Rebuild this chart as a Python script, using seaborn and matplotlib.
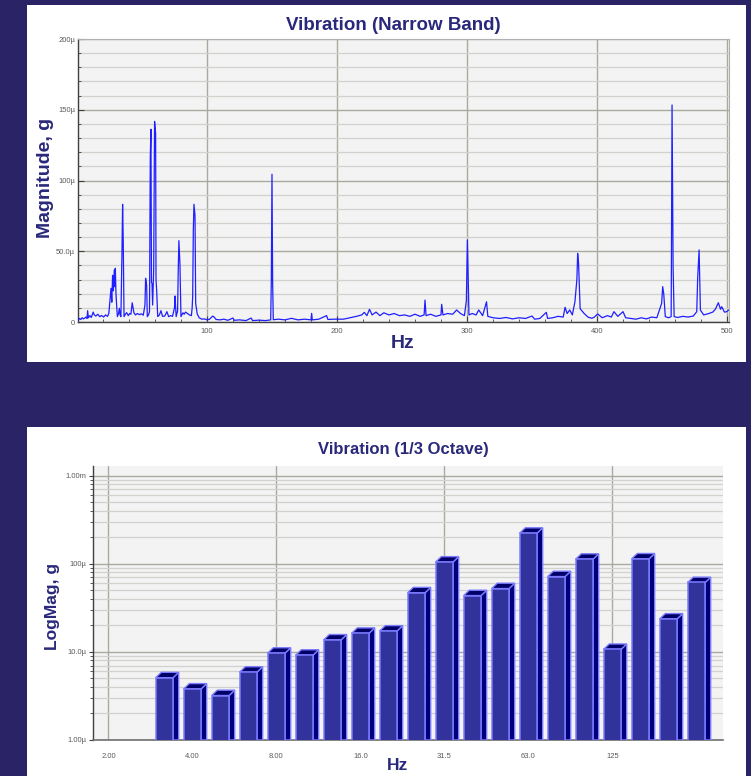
import numpy as np
import pandas as pd
import matplotlib
matplotlib.use('Agg')
import matplotlib.pyplot as plt
import seaborn as sns
from matplotlib.patches import Rectangle, Polygon
from matplotlib.ticker import FixedLocator, MultipleLocator, FuncFormatter, LogLocator, NullFormatter

sns.set_theme(style='white')
plt.rcParams['font.family'] = ['Liberation Sans', 'DejaVu Sans']

# Narrow band spectrum (Hz, micro-g)
nb_freq = [1, 2, 3, 4, 5, 6, 7, 7.8, 8.2, 8.8, 10, 11, 12.5, 13.3, 14.5, 16, 17.5, 19,
           20.5, 22, 23.5, 24.5, 25.4, 26.2, 26.8, 27.4, 28.0, 28.7, 29.2, 29.5, 30.0,
           30.5, 31.1, 32.0, 32.6, 33.2, 33.8, 34.6, 35.1, 35.6, 36.2, 37.2, 38.2, 39.5,
           40.5, 41.5, 42.5, 43.8, 45, 46.5, 48, 49.5, 51, 52.3, 52.8, 53.6, 54.1, 55.0,
           55.8, 56.4, 56.9, 57.3, 57.7, 58.2, 59.0, 59.7, 60.5, 60.8, 61.3, 62.1, 63.4,
           64.6, 65.8, 67.5, 69.2, 70.5, 72, 73.5, 75.0, 75.4, 76.3, 77.4, 77.9, 78.4,
           79.2, 80.0, 81.5, 82.5, 83.5, 85, 86.5, 88, 88.6, 89.0, 89.5, 90.0, 90.8, 91.3,
           92.5, 94, 96, 98, 100, 102, 104.4, 105.5, 107, 110, 113, 116, 120, 121, 125,
           130, 134, 135, 140, 145, 149, 149.5, 150, 150.5, 151, 155, 160, 165, 170, 175,
           180, 180.5, 181, 186, 192, 193, 198, 205, 210, 215, 219, 221, 223, 225, 227,
           230, 233, 236, 240, 244, 248, 252, 256, 260, 264, 267, 267.7, 268.5, 272, 276,
           280, 280.5, 281.5, 285, 289, 292, 295, 298, 299.5, 300.3, 300.8, 301.5, 304,
           307, 309, 312, 315, 316, 320, 325, 330, 335, 340, 345, 350, 352, 356, 361, 362,
           366, 370, 374, 375.4, 377, 379, 381, 383, 384.5, 385.1, 385.8, 387, 390, 393,
           396, 398, 400.5, 404, 408, 411, 413, 416, 420, 422, 426, 430, 434, 438, 442,
           446, 449.7, 450.5, 451.3, 452.5, 455, 457, 457.2, 457.7, 458.5, 459.3, 462,
           466, 470, 474, 476.7, 477.4, 478.5, 479.5, 482, 486, 489, 491, 493.3, 495,
           495.9, 498, 499.7, 501.3]
nb_mag = [1.2, 2.5, 1.8, 3.0, 2.2, 2.8, 3.5, 2.5, 8.0, 3.0, 4.5, 3.2, 7.0, 5.0, 4.2, 5.5, 3.8, 4.6,
          3.5, 5.0, 4.0, 6.0, 15.5, 23.8, 14, 33, 22, 36.7, 25, 38, 20,
          12, 3.8, 6, 9.7, 5, 3.8, 48, 83.2, 56.8, 3.8, 5.5, 6.6, 4.5,
          6, 5.5, 13.6, 6.6, 5, 6, 5.2, 5.8, 4.8, 12, 30.9, 26, 3.8, 5,
          7.3, 116.4, 136.2, 28, 27.3, 12, 36.7, 141.8, 133.3, 29.7, 22.6, 3.8, 5,
          8.0, 4, 4.2, 7.3, 3.8, 4.5, 4, 10, 18.4, 3.8, 8, 36.7, 57.5,
          41, 3.8, 6.5, 5.5, 7, 6, 5, 4.5, 10, 17.9, 65, 83.2, 75, 13.2,
          5.7, 3, 2, 2.2, 1.5, 2, 4.2, 3.5, 1.8, 1.5, 2.0, 1.2, 2.8, 1.2, 1.5,
          1.0, 2.8, 1.0, 1.3, 1.0, 1.5, 29.7, 104.4, 28, 1.6, 2, 1.5, 2.6, 1.5, 2.0,
          1.5, 6.1, 1.5, 2, 4.5, 1.8, 2, 2, 3, 4, 5, 6.8, 4.5, 9, 5,
          7, 4.5, 6.5, 5, 6, 4.5, 5, 4, 5.5, 4, 5, 15.5, 4.5, 5.5, 4,
          5, 12.5, 5, 6, 5.5, 8.5, 6, 4.5, 15, 58, 35.6, 5, 6,
          5, 8.5, 4.5, 14.3, 4, 3, 2.5, 3.2, 2.2, 3, 2.5, 4.2, 2, 2.5, 6.8, 2.5,
          3, 4, 3.5, 10.4, 6, 8.5, 5, 14.3, 30, 48.5, 41.4, 9.4, 6.1, 3.5,
          2.6, 3.5, 5.7, 3, 4.5, 3.5, 7.3, 4, 7.3, 3, 2.5, 2.0, 3.0, 2.2, 3.5,
          3, 13.2, 25, 20, 3.8, 3, 3.8, 39, 153.4, 39, 3.8, 3.2,
          4, 3.5, 4.2, 7.3, 30.9, 50.9, 8.5, 5, 6, 7, 9, 13.6, 9,
          10.8, 7, 7.3, 8.5]

# 1/3 octave bands (Hz) and levels (micro-g)
band_hz = ['3.15', '4.00', '5.00', '6.30', '8.00', '10.0', '12.5', '16.0', '20.0', '25.0',
           '31.5', '40.0', '50.0', '63.0', '80.0', '100', '125', '160', '200', '250']
band_mag = [5.1, 3.8, 3.2, 5.9, 9.7, 9.2, 13.7, 16.3, 17.3, 47,
            105, 43.6, 52.4, 223, 71.7, 113, 10.7, 114, 23.7, 61.4]
oct_ticks = [2.0, 4.0, 8.0, 16.0, 31.5, 63.0, 125.0]
oct_tick_labels = ['2.00', '4.00', '8.00', '16.0', '31.5', '63.0', '125']

BG = '#2a2466'
TXT = '#29287a'
TICKC = '#5a5a5a'
PLOTBG = '#f3f3f3'
GRID_MAJ = '#a9a99e'
GRID_MIN = '#d2d2cc'
LINE = '#1f1fff'
FRONT = '#32329c'
SIDE = '#00007c'
TOP = '#000068'
EDGE = '#7b7bff'

W, H = 751, 776
fig = plt.figure(figsize=(W / 100, H / 100), dpi=100, facecolor=BG)


def fx(px):
    return px / W


def fy(py):
    return 1 - py / H


# white panels
for (x0, y0, x1, y1) in [(27, 5, 746, 362), (27, 427, 746, 776)]:
    fig.patches.append(Rectangle((fx(x0), fy(y1)), fx(x1) - fx(x0), fy(y0) - fy(y1),
                                 transform=fig.transFigure, facecolor='white',
                                 edgecolor='none', zorder=-1))

# ---------- top: narrow band ----------
ax1 = fig.add_axes([fx(78), fy(322), fx(729) - fx(78), fy(39) - fy(322)])
ax1.set_facecolor(PLOTBG)
nb = pd.DataFrame({'Hz': nb_freq, 'mag': nb_mag})
sns.lineplot(data=nb, x='Hz', y='mag', color=LINE, linewidth=0.9, estimator=None,
             ax=ax1, zorder=3)
ax1.set_xlim(0.8, 501.5)
ax1.set_ylim(0, 200)
ax1.xaxis.set_major_locator(MultipleLocator(100))
ax1.xaxis.set_minor_locator(MultipleLocator(20))
ax1.yaxis.set_major_locator(MultipleLocator(50))
ax1.yaxis.set_minor_locator(MultipleLocator(10))
ax1.xaxis.set_major_formatter(FuncFormatter(lambda v, p: f'{v:.0f}'))
ax1.yaxis.set_major_formatter(FuncFormatter(
    lambda v, p: '0' if v == 0 else (f'{v:.1f}\u00b5' if v < 100 else f'{v:.0f}\u00b5')))
ax1.grid(which='major', axis='both', color=GRID_MAJ, linewidth=1.0)
ax1.grid(which='minor', axis='y', color=GRID_MIN, linewidth=0.9)
ax1.set_axisbelow(True)
ax1.tick_params(which='both', direction='in', labelsize=5.5, labelcolor=TICKC,
                color='#404040', pad=2, left=True, bottom=True)
ax1.tick_params(which='major', length=4, width=0.8)
ax1.tick_params(which='minor', length=2.5, width=0.6)
ax1.tick_params(axis='x', which='both', pad=4)
ax1.set_xlabel('')
ax1.set_ylabel('')
for s in ['left', 'bottom']:
    ax1.spines[s].set_color('#404040')
    ax1.spines[s].set_linewidth(1.0)
for s in ['top', 'right']:
    ax1.spines[s].set_color('#b0b0b0')
    ax1.spines[s].set_linewidth(0.8)

fig.text(fx(393), fy(25), 'Vibration (Narrow Band)', ha='center', va='center',
         fontsize=13.5, fontweight='bold', color=TXT)
fig.text(fx(46), fy(178), 'Magnitude, g', ha='center', va='center', rotation=90,
         fontsize=14, fontweight='bold', color=TXT)
fig.text(fx(403), fy(344), 'Hz', ha='center', va='center',
         fontsize=14, fontweight='bold', color=TXT)

# ---------- bottom: 1/3 octave ----------
ax2 = fig.add_axes([fx(93), fy(740), fx(723) - fx(93), fy(466) - fy(740)])
ax2.set_facecolor(PLOTBG)
ax2.set_yscale('log')
ob = pd.DataFrame({'band': band_hz, 'mag': band_mag})
sns.barplot(data=ob, x='band', y='mag', color=FRONT, saturation=1, width=0.62,
            edgecolor=EDGE, linewidth=1.1, ax=ax2, zorder=3)
ax2.set_ylim(1, 1290)
ax2.set_xlim(-2.55, 19.95)

# 3d depth for each bar, taken from seaborn's own patches
dx, fz = 0.2, 1.15
base = 1.0
for p in list(ax2.patches):
    x0 = p.get_x()
    x1 = x0 + p.get_width()
    h = p.get_y() + p.get_height()
    side = Polygon([(x1, base), (x1, h), (x1 + dx, h * fz), (x1 + dx, base)],
                   closed=True, facecolor=SIDE, edgecolor=EDGE, linewidth=1.0, zorder=2.9)
    top = Polygon([(x0, h), (x1, h), (x1 + dx, h * fz), (x0 + dx, h * fz)],
                  closed=True, facecolor=TOP, edgecolor=EDGE, linewidth=1.0, zorder=2.9)
    ax2.add_patch(side)
    ax2.add_patch(top)

tick_pos = np.round(3 * np.log2(np.array(oct_ticks) / float(band_hz[0])))
ax2.xaxis.set_major_locator(FixedLocator(tick_pos))
ax2.set_xticklabels(oct_tick_labels)
for xp in tick_pos[::2]:
    ax2.axvline(xp, color=GRID_MAJ, linewidth=1.0, zorder=0.5)

ax2.yaxis.set_major_locator(LogLocator(base=10, numticks=10))
ax2.yaxis.set_minor_locator(LogLocator(base=10, subs=np.arange(2, 10), numticks=20))
ax2.yaxis.set_minor_formatter(NullFormatter())
ax2.yaxis.set_major_formatter(FuncFormatter(
    lambda v, p: {1: '1.00\u00b5', 10: '10.0\u00b5', 100: '100\u00b5', 1000: '1.00m'}.get(int(round(v)), '')))
ax2.grid(which='major', axis='y', color=GRID_MAJ, linewidth=1.0)
ax2.grid(which='minor', axis='y', color=GRID_MIN, linewidth=0.9)
ax2.set_axisbelow(True)
ax2.tick_params(axis='y', which='both', direction='out', left=True, labelsize=5.5,
                labelcolor=TICKC, color='#404040', pad=1.5)
ax2.tick_params(axis='y', which='major', length=3, width=0.8)
ax2.tick_params(axis='y', which='minor', length=2, width=0.6)
ax2.tick_params(axis='x', which='both', bottom=False, labelsize=5.5, labelcolor=TICKC, pad=3)
ax2.set_xlabel('')
ax2.set_ylabel('')
ax2.spines['left'].set_color('#404040')
ax2.spines['bottom'].set_color('#707070')
ax2.spines['left'].set_linewidth(1.0)
ax2.spines['bottom'].set_linewidth(1.2)
ax2.spines['top'].set_visible(False)
ax2.spines['right'].set_visible(False)

fig.text(fx(403), fy(449), 'Vibration (1/3 Octave)', ha='center', va='center',
         fontsize=12, fontweight='bold', color=TXT)
fig.text(fx(53), fy(606), 'LogMag, g', ha='center', va='center', rotation=90,
         fontsize=12.5, fontweight='bold', color=TXT)
fig.text(fx(398), fy(765), 'Hz', ha='center', va='center',
         fontsize=12.5, fontweight='bold', color=TXT)

fig.savefig('out.png', dpi=100, facecolor=BG)
